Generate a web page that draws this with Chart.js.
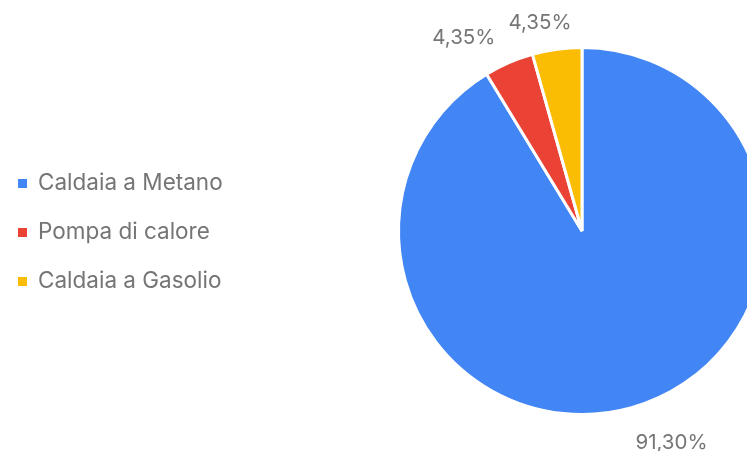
<!DOCTYPE html>
<html>
<head>
<meta charset="utf-8">
<script src="https://cdn.jsdelivr.net/npm/chart.js@4.4.1/dist/chart.umd.min.js"></script>
<style>
  html, body { margin: 0; padding: 0; background: #fff; overflow: hidden; }
  #wrap { position: relative; width: 767px; height: 451px; }
</style>
</head>
<body>
<div id="wrap"><canvas id="pie"></canvas></div>
<script>
const categories = ['Caldaia a Metano', 'Pompa di calore', 'Caldaia a Gasolio'];
const values = [91.30, 4.35, 4.35];
const percentLabels = ['91,30%', '4,35%', '4,35%'];
const colors = ['#4285F4', '#EA4335', '#FBBC04'];

// where each percent label sits, relative to the rim point at the slice middle
const labelShift = [[40, 35], [-45, -25], [-17, -26]];

const textColor = '#757575';
const fontFamily = 'Inter, "Noto Sans", sans-serif';

// legend on the left, drawn by hand
const sideLegend = {
  id: 'sideLegend',
  afterDraw(chart) {
    const ctx = chart.ctx;
    const cy = (chart.chartArea.top + chart.chartArea.bottom) / 2 + 1;
    const gap = 49;
    const n = chart.data.labels.length;
    ctx.save();
    ctx.font = '22.5px ' + fontFamily;
    ctx.textBaseline = 'middle';
    ctx.textAlign = 'left';
    chart.data.labels.forEach((lab, i) => {
      const y = cy + (i - (n - 1) / 2) * gap;
      ctx.fillStyle = chart.data.datasets[0].backgroundColor[i];
      ctx.fillRect(18, y - 4, 9, 9);
      ctx.fillStyle = textColor;
      ctx.fillText(lab, 38, y);
    });
    ctx.restore();
  }
};

// percent labels outside the pie
const outsideLabels = {
  id: 'outsideLabels',
  afterDatasetsDraw(chart) {
    const ctx = chart.ctx;
    const meta = chart.getDatasetMeta(0);
    ctx.save();
    ctx.font = '20.5px ' + fontFamily;
    ctx.fillStyle = textColor;
    ctx.textAlign = 'center';
    ctx.textBaseline = 'middle';
    meta.data.forEach((arc, i) => {
      const p = arc.getProps(['x', 'y', 'startAngle', 'endAngle', 'outerRadius'], true);
      const mid = (p.startAngle + p.endAngle) / 2;
      const ex = p.x + Math.cos(mid) * p.outerRadius;
      const ey = p.y + Math.sin(mid) * p.outerRadius;
      ctx.fillText(percentLabels[i], ex + labelShift[i][0], ey + labelShift[i][1]);
    });
    ctx.restore();
  }
};

new Chart(document.getElementById('pie'), {
  type: 'pie',
  data: {
    labels: categories,
    datasets: [{
      data: values,
      backgroundColor: colors,
      borderColor: '#ffffff',
      borderWidth: 3
    }]
  },
  options: {
    responsive: true,
    maintainAspectRatio: false,
    animation: false,
    layout: { padding: { left: 397, right: 0, top: 46, bottom: 35 } },
    plugins: {
      legend: { display: false },
      tooltip: { enabled: false }
    }
  },
  plugins: [sideLegend, outsideLabels]
});
</script>
</body>
</html>
